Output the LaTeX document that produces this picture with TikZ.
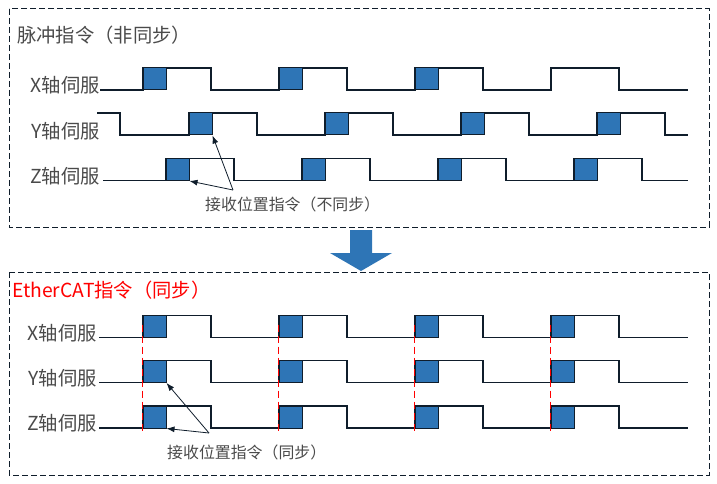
\documentclass[tikz,border=0pt]{standalone}
\usepackage{fontspec}
\newfontfamily\cjk{Noto Sans CJK SC}
\usetikzlibrary{arrows.meta, calc}

\definecolor{cmdblue}{HTML}{2E75B6}
\definecolor{wire}{HTML}{0F1D2B}
\definecolor{txtgray}{HTML}{4A4A4A}

\begin{document}
\begin{tikzpicture}[x=1pt, y=-1pt,
  every node/.style={font=\cjk\fontsize{19.3}{21}\selectfont, text=txtgray, inner sep=0pt},
  frame/.style={draw=wire, line width=1pt, dash pattern=on 6pt off 3pt},
  wave/.style={draw=wire, line width=1.1pt},
  cmd/.style={rectangle, draw=wire, line width=1pt, fill=cmdblue, minimum width=23pt, minimum height=22pt},
  note/.style={font=\cjk\fontsize{15.9}{17}\selectfont},
  pointer/.style={draw=wire, line width=0.8pt, -{Latex[length=8pt,width=6pt]}},
  sync/.style={draw=red, line width=0.9pt, dash pattern=on 7pt off 4pt}
]
\useasboundingbox (0,0) rectangle (717,484);

% pulse command (not synchronised)
\draw[frame] (9,9) rectangle (709,227);
\node[anchor=west] (t1) at (17,35.5) {脉冲指令（非同步）};

\node[anchor=east] (lx1) at (100,85) {X轴伺服};
\node[anchor=east] (ly1) at (100,131) {Y轴伺服};
\node[anchor=east] (lz1) at (100,176) {Z轴伺服};

\draw[wave] (100,90) \foreach \k in {0,...,3} { -- ({143+136*\k},90) -- ++(0,-22) -- ++(68,0) -- ++(0,22) } -- (688,90);
\draw[wave] (97,113) -- (120,113) -- (120,135) \foreach \k in {0,...,3} { -- ({189+136*\k},135) -- ++(0,-22) -- ++(68,0) -- ++(0,22) } -- (688,135);
\draw[wave] (103,180.5) \foreach \k in {0,...,3} { -- ({166+136*\k},180.5) -- ++(0,-22) -- ++(68,0) -- ++(0,22) } -- (688,180.5);

\foreach \k in {0,1,2} \node[cmd] (px\k) at ({154.5+136*\k},79) {};
\foreach \k in {0,...,3} \node[cmd] (py\k) at ({200.5+136*\k},124) {};
\foreach \k in {0,...,3} \node[cmd] (pz\k) at ({177.5+136*\k},169.5) {};

\node[note, anchor=west] (n1) at (205,204) {接收位置指令（不同步）};
\coordinate (h1) at (233,190);
\draw[pointer] (h1) -- (py0.south east);
\draw[pointer] (h1) -- (pz0.south east);

% arrow between the two cases
\fill[cmdblue] (350,230) -- (372,230) -- (372,253) -- (392,253) -- (361,271) -- (330,253) -- (350,253) -- cycle;

% EtherCAT command (synchronised)
\draw[frame] (9,272) rectangle (709,475);
\node[anchor=west, text=red] (t2) at (12,290) {EtherCAT指令（同步）};

\node[anchor=east] (lx2) at (97,333) {X轴伺服};
\node[anchor=east] (ly2) at (97,378) {Y轴伺服};
\node[anchor=east] (lz2) at (97,423) {Z轴伺服};

\foreach \yl in {337.5,382.5,428}
  \draw[wave] (99,\yl) \foreach \k in {0,...,3} { -- ({143+136*\k},\yl) -- ++(0,-22) -- ++(68,0) -- ++(0,22) } -- (688,\yl);

\foreach \k in {0,...,3} {
  \node[cmd] (ex\k) at ({154.5+136*\k},326.5) {};
  \node[cmd] (ey\k) at ({154.5+136*\k},371.5) {};
  \node[cmd] (ez\k) at ({154.5+136*\k},417) {};
  \draw[sync] ([yshift=-9.5pt]ex\k.north west) -- ([yshift=-2pt]ez\k.south west);
}

\node[note, anchor=west] (n2) at (167,452) {接收位置指令（同步）};
\coordinate (h2) at (209,433);
\draw[pointer] (h2) -- (ey0.south east);
\draw[pointer] (h2) -- (ez0.south east);
\end{tikzpicture}
\end{document}
